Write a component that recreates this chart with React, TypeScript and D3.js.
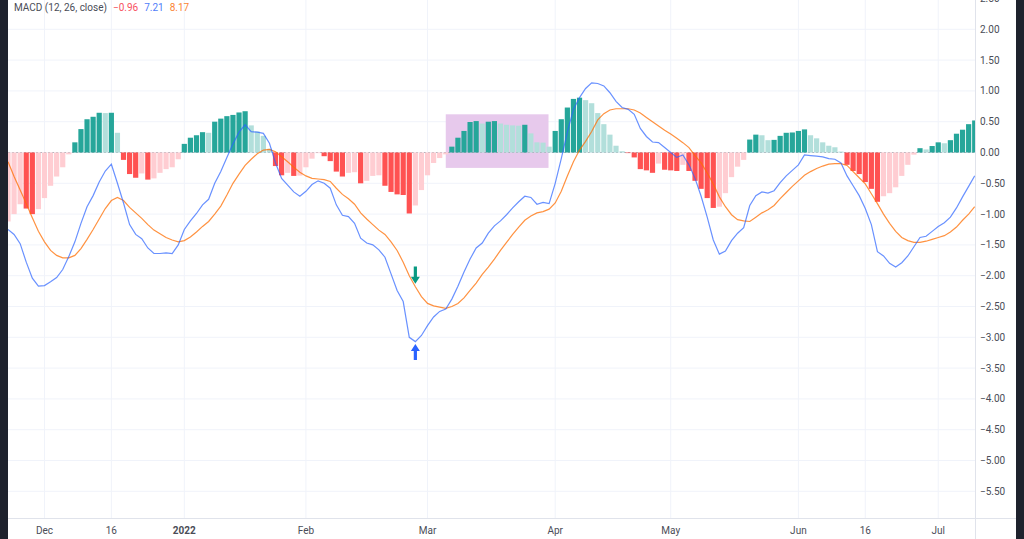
import React from "react";
import * as d3 from "d3";

// ---- data ----
const histogram = [
  -1.12, -1.0, -0.84, -0.91, -1.0, -0.92, -0.74, -0.54, -0.39, -0.24,
  -0.03, 0.165, 0.38, 0.54, 0.58, 0.645, 0.64, 0.645, 0.32, -0.12,
  -0.35, -0.41, -0.34, -0.44, -0.42, -0.33, -0.27, -0.24, -0.11, 0.14,
  0.24, 0.28, 0.33, 0.32, 0.5, 0.55, 0.59, 0.61, 0.65, 0.67,
  0.44, 0.34, 0.27, 0.06, -0.22, -0.37, -0.33, -0.38, -0.375, -0.24,
  -0.1, -0.01, -0.06, -0.14, -0.31, -0.39, -0.33, -0.32, -0.5, -0.46,
  -0.38, -0.37, -0.54, -0.64, -0.68, -0.69, -0.99, -0.86, -0.61, -0.37,
  -0.17, -0.09, -0.03, 0.095, 0.24, 0.35, 0.495, 0.51, 0.47, 0.5,
  0.51, 0.47, 0.45, 0.44, 0.435, 0.45, 0.31, 0.165, 0.16, 0.095,
  0.35, 0.54, 0.73, 0.87, 0.89, 0.85, 0.8, 0.64, 0.46, 0.29,
  0.11, 0.02, -0.005, -0.08, -0.27, -0.29, -0.33, -0.18, -0.28, -0.29,
  -0.3, -0.2, -0.3, -0.46, -0.59, -0.74, -0.9, -0.88, -0.66, -0.4,
  -0.23, -0.12, 0.21, 0.29, 0.28, 0.2, 0.205, 0.27, 0.32, 0.325,
  0.35, 0.375, 0.28, 0.23, 0.165, 0.11, 0.085, 0.015, -0.2, -0.3,
  -0.35, -0.48, -0.59, -0.8, -0.71, -0.66, -0.565, -0.38, -0.2, -0.035,
  0.07, 0.05, 0.105, 0.165, 0.15, 0.2, 0.305, 0.37, 0.46, 0.52,
];

const macdLine = [
  -1.25, -1.33, -1.48, -1.78, -2.04, -2.17, -2.16, -2.1, -2.03, -1.9,
  -1.69, -1.45, -1.15, -0.88, -0.7, -0.48, -0.3, -0.19, -0.5, -0.82,
  -1.17, -1.33, -1.4, -1.55, -1.64, -1.64, -1.63, -1.64, -1.5, -1.25,
  -1.11, -0.99, -0.85, -0.76, -0.5, -0.31, -0.08, 0.14, 0.33, 0.45,
  0.34, 0.33, 0.31, 0.15, -0.17, -0.42, -0.53, -0.64, -0.71, -0.63,
  -0.52, -0.46, -0.5, -0.58, -0.85, -1.02, -1.04, -1.15, -1.39, -1.47,
  -1.5, -1.58, -1.7, -1.97, -2.24, -2.42, -3.0, -3.07, -2.97, -2.81,
  -2.67, -2.58, -2.54, -2.38, -2.17, -1.94, -1.73, -1.55, -1.47, -1.31,
  -1.19, -1.11, -1.01, -0.9, -0.8, -0.71, -0.73, -0.84, -0.81, -0.83,
  -0.5, -0.1, 0.33, 0.7, 0.89, 1.04, 1.13, 1.12, 1.08, 0.97,
  0.83, 0.73, 0.7, 0.62, 0.39, 0.26, 0.17, 0.16, 0.08, 0.0,
  -0.08, -0.04, -0.2, -0.42, -0.71, -1.05, -1.42, -1.65, -1.6, -1.43,
  -1.31, -1.22, -0.86, -0.7, -0.64, -0.66, -0.62, -0.49, -0.38, -0.29,
  -0.2, -0.04, -0.05, -0.06, -0.07, -0.1, -0.11, -0.17, -0.38, -0.54,
  -0.7, -0.91, -1.17, -1.61, -1.68, -1.8, -1.86, -1.79, -1.68, -1.53,
  -1.38, -1.36, -1.28, -1.2, -1.14, -1.05, -0.9, -0.72, -0.55, -0.38,
];

const signalLine = [
  -0.15, -0.39, -0.61, -0.83, -1.06, -1.28, -1.45, -1.59, -1.67, -1.71,
  -1.71, -1.67, -1.56, -1.41, -1.25, -1.08, -0.91, -0.78, -0.73, -0.78,
  -0.89, -0.98, -1.07, -1.17, -1.26, -1.32, -1.38, -1.42, -1.45, -1.43,
  -1.37, -1.29, -1.2, -1.12, -1.0, -0.87, -0.69, -0.5, -0.35, -0.21,
  -0.11, -0.02, 0.04, 0.05, 0.01, -0.07, -0.15, -0.24, -0.32, -0.38,
  -0.42, -0.43, -0.44, -0.47, -0.58, -0.68, -0.75, -0.84, -0.98, -1.08,
  -1.17, -1.26, -1.33, -1.45, -1.59, -1.78, -2.0, -2.18, -2.34, -2.45,
  -2.49, -2.51, -2.53, -2.5, -2.45, -2.36, -2.24, -2.12, -1.98, -1.86,
  -1.73, -1.59, -1.46, -1.33, -1.21, -1.1, -1.03, -0.98, -0.96, -0.92,
  -0.82, -0.63, -0.38, -0.15, 0.04, 0.18, 0.34, 0.53, 0.63, 0.69,
  0.71, 0.71, 0.71, 0.69, 0.64, 0.57, 0.5, 0.43, 0.36, 0.3,
  0.23, 0.16, 0.08, -0.05, -0.17, -0.33, -0.51, -0.72, -0.88, -1.01,
  -1.09, -1.11, -1.12, -1.05, -0.98, -0.93, -0.86, -0.75, -0.65, -0.55,
  -0.46, -0.37, -0.31, -0.26, -0.22, -0.19, -0.18, -0.18, -0.21, -0.31,
  -0.41, -0.51, -0.67, -0.83, -1.0, -1.15, -1.28, -1.38, -1.43, -1.46,
  -1.46, -1.44, -1.41, -1.38, -1.35, -1.29, -1.21, -1.1, -1.0, -0.88,
];

const xTickLabels = ["Dec", "16", "2022", "Feb", "Mar", "Apr", "May", "Jun", "16", "Jul"];
const xTickIndex = [6, 17, 29, 49, 69, 90, 109, 130, 141, 153];
const yTickValues = [2.5, 2, 1.5, 1, 0.5, 0, -0.5, -1, -1.5, -2, -2.5, -3, -3.5, -4, -4.5, -5, -5.5];

const legendTitle = "MACD (12, 26, close)";
const legendValues = ["\u22120.96", "7.21", "8.17"];

// rectangle drawing (bar index span, value span)
const boxIndexSpan = [72.0, 88.9];
const boxValueSpan = [0.62, -0.25];
// arrows: bar index, tail value, tip value
const arrowDown = { index: 67, tail: -1.85, tip: -2.13 };
const arrowUp = { index: 67, tail: -3.37, tip: -3.11 };

const COLORS = {
  upStrong: "#26a69a",
  upWeak: "#b2dfdb",
  downWeak: "#ffcdd2",
  downStrong: "#ff5252",
  macd: "#2962ff",
  signal: "#ff6d00",
  grid: "#f0f3fa",
  border: "#e0e3eb",
  dark: "#1e222d",
  text: "#4a4d57",
};

function barColor(i: number) {
  const v = histogram[i];
  const prev = i > 0 ? histogram[i - 1] : v;
  if (v >= 0) return v > prev || i === 0 ? COLORS.upStrong : COLORS.upWeak;
  return v < prev ? COLORS.downStrong : COLORS.downWeak;
}

function fmt(v: number) {
  const s = Math.abs(v).toFixed(2);
  return v < 0 ? "\u2212" + s : s;
}

function Arrow({ x, yTail, yTip, color }: { x: number; yTail: number; yTip: number; color: string }) {
  const dir = yTip > yTail ? 1 : -1;
  const headH = 7;
  const headW = 4.5;
  const shaftW = 1.6;
  const yHeadBase = yTip - dir * headH;
  const d = [
    `M${x - shaftW},${yTail}`,
    `L${x + shaftW},${yTail}`,
    `L${x + shaftW},${yHeadBase}`,
    `L${x + headW},${yHeadBase}`,
    `L${x},${yTip}`,
    `L${x - headW},${yHeadBase}`,
    `L${x - shaftW},${yHeadBase}`,
    "Z",
  ].join(" ");
  return <path d={d} fill={color} />;
}

export default function App() {
  const W = 1024;
  const H = 539;
  const plotLeft = 8;
  const plotRight = 975;
  const axisRight = 1016;
  const plotBottom = 518;
  const step = 6.08;
  const n = histogram.length;

  const x = d3.scaleLinear().domain([0, n - 1]).range([plotLeft, plotLeft + step * (n - 1)]);
  const y = d3.scaleLinear().domain([0, 2]).range([152.5, 29.3]);
  const bw = 5.2;

  const line = d3
    .line<number>()
    .x((_, i) => x(i))
    .y((d) => y(d));

  const font = "Roboto, 'Open Sans', sans-serif";

  return (
    <svg
      width={W}
      height={H}
      viewBox={`0 0 ${W} ${H}`}
      style={{ position: "fixed", left: 0, top: 0, display: "block", background: "#ffffff" }}
    >
      <defs>
        <clipPath id="plot">
          <rect x={plotLeft} y={0} width={plotRight - plotLeft} height={plotBottom} />
        </clipPath>
      </defs>
      <rect x={0} y={0} width={W} height={H} fill="#ffffff" />

      {/* grid */}
      <g clipPath="url(#plot)">
        {yTickValues.map((v) => (
          <line key={"h" + v} x1={plotLeft} x2={plotRight} y1={y(v)} y2={y(v)} stroke={COLORS.grid} strokeWidth={1} />
        ))}
        {xTickIndex.map((idx, k) => (
          <line key={"v" + k} x1={x(idx)} x2={x(idx)} y1={0} y2={plotBottom} stroke={COLORS.grid} strokeWidth={1} />
        ))}
      </g>

      <g clipPath="url(#plot)">
        {/* rectangle drawing */}
        <rect
          x={x(boxIndexSpan[0])}
          y={y(boxValueSpan[0])}
          width={x(boxIndexSpan[1]) - x(boxIndexSpan[0])}
          height={y(boxValueSpan[1]) - y(boxValueSpan[0])}
          fill="#e7c9ec"
        />
        {/* zero line */}
        <line
          x1={plotLeft}
          x2={plotRight}
          y1={y(0)}
          y2={y(0)}
          stroke="#9598a1"
          strokeOpacity={0.7}
          strokeDasharray="2 2"
          strokeWidth={1}
        />
        {/* histogram */}
        {histogram.map((v, i) => {
          const y0 = y(0);
          const y1 = y(v);
          return (
            <rect
              key={"b" + i}
              x={x(i) - bw / 2}
              y={Math.min(y0, y1)}
              width={bw}
              height={Math.max(0.6, Math.abs(y1 - y0))}
              fill={barColor(i)}
            />
          );
        })}
        {/* lines */}
        <path d={line(signalLine) || ""} fill="none" stroke={COLORS.signal} strokeOpacity={0.75} strokeWidth={1.2} />
        <path d={line(macdLine) || ""} fill="none" stroke={COLORS.macd} strokeOpacity={0.7} strokeWidth={1.2} />
        {/* arrows */}
        <Arrow x={x(arrowDown.index)} yTail={y(arrowDown.tail)} yTip={y(arrowDown.tip)} color="#089981" />
        <Arrow x={x(arrowUp.index)} yTail={y(arrowUp.tail)} yTip={y(arrowUp.tip)} color="#2962ff" />
      </g>

      {/* legend */}
      <text x={14} y={11} fontFamily={font} fontSize={10} fill={COLORS.text}>
        {legendTitle}
        <tspan dx={6} fill="#f7525f">{legendValues[0]}</tspan>
        <tspan dx={6} fill="#4f7df9">{legendValues[1]}</tspan>
        <tspan dx={6} fill="#fb8434">{legendValues[2]}</tspan>
      </text>

      {/* axes borders */}
      <line x1={plotLeft} x2={axisRight} y1={plotBottom + 0.5} y2={plotBottom + 0.5} stroke={COLORS.border} />
      <line x1={plotRight + 0.5} x2={plotRight + 0.5} y1={0} y2={H} stroke={COLORS.border} />

      {/* y axis labels */}
      {yTickValues.map((v) => (
        <text
          key={"yl" + v}
          x={980}
          y={y(v)}
          dy="0.35em"
          fontFamily={font}
          fontSize={10}
          fill={COLORS.text}
        >
          {fmt(v)}
        </text>
      ))}

      {/* x axis labels */}
      {xTickIndex.map((idx, k) => (
        <text
          key={"xl" + k}
          x={x(idx)}
          y={530}
          dy="0.35em"
          textAnchor="middle"
          fontFamily={font}
          fontSize={10}
          fontWeight={xTickLabels[k] === "2022" ? 700 : 400}
          fill={COLORS.text}
        >
          {xTickLabels[k]}
        </text>
      ))}

      {/* dark side strips */}
      <rect x={0} y={0} width={plotLeft} height={H} fill={COLORS.dark} />
      <rect x={axisRight} y={0} width={W - axisRight} height={H} fill={COLORS.dark} />
    </svg>
  );
}
